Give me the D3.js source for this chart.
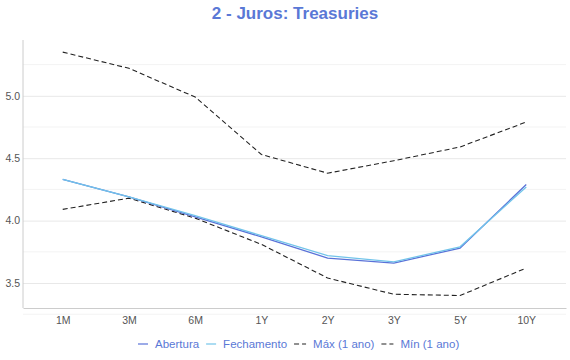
<!DOCTYPE html>
<html>
<head>
<meta charset="utf-8">
<script src="https://cdn.jsdelivr.net/npm/d3@7"></script>
<style>
  body { margin: 0; background: #fff; font-family: "Liberation Sans", Arial, sans-serif; }
</style>
</head>
<body>
<div id="chart"></div>
<script>
'use strict';

// maturities on the x axis
const maturities = ["1M", "3M", "6M", "1Y", "2Y", "3Y", "5Y", "10Y"];
// yields
const abertura   = [4.33, 4.19, 4.03, 3.87, 3.70, 3.66, 3.78, 4.29];
const fechamento = [4.33, 4.19, 4.04, 3.88, 3.72, 3.67, 3.79, 4.27];
const maxAno     = [5.35, 5.22, 4.99, 4.53, 4.38, 4.48, 4.59, 4.79];
const minAno     = [4.09, 4.18, 4.02, 3.81, 3.54, 3.41, 3.40, 3.62];
const yTicks = [3.5, 4.0, 4.5, 5.0];
const yMinor = [3.25, 3.75, 4.25, 4.75, 5.25];

(function() {

  const series = [
    { name: "Abertura",    values: abertura,   color: "#5a72d8", dash: null },
    { name: "Fechamento",  values: fechamento, color: "#72c4ea", dash: null },
    { name: "Máx (1 ano)", values: maxAno,     color: "#222",    dash: "5,3" },
    { name: "Mín (1 ano)", values: minAno,     color: "#222",    dash: "5,3" }
  ];

  const width = 570, height = 360;
  const plotLeft = 23, plotRight = 566, plotTop = 40, plotBottom = 308;

  const svg = d3.select('#chart')
    .append('svg')
    .attr('width', width)
    .attr('height', height);

  // title
  svg.append('text')
    .attr('x', 295)
    .attr('y', 19)
    .attr('text-anchor', 'middle')
    .style('font-size', '17px')
    .style('font-weight', 'bold')
    .style('fill', '#5a78d6')
    .text('2 - Juros: Treasuries');

  let x = d3.scalePoint()
    .domain(maturities)
    .range([plotLeft, plotRight])
    .padding(0.6);

  let y = d3.scaleLinear()
    .domain([3.3, 5.447])
    .range([plotBottom, plotTop]);

  // minor gridlines
  svg.append('g')
    .selectAll('line')
    .data(yMinor)
    .enter()
    .append('line')
    .attr('x1', plotLeft).attr('x2', plotRight)
    .attr('y1', (d) => y(d)).attr('y2', (d) => y(d))
    .attr('stroke', '#f3f3f3')
    .attr('stroke-width', 1);

  // y axis with major gridlines
  let yAxis = d3.axisLeft(y)
    .tickValues(yTicks)
    .tickFormat(d3.format('.1f'))
    .tickSize(-(plotRight - plotLeft))
    .tickPadding(3);
  let gy = svg.append('g')
    .attr('transform', 'translate(' + plotLeft + ',0)')
    .call(yAxis);
  gy.select('.domain').remove();
  gy.selectAll('.tick line').attr('stroke', '#e8e8e8');
  gy.selectAll('.tick text')
    .style('font-size', '10.5px')
    .style('fill', '#555')
    .style('font-family', '"Liberation Sans", Arial, sans-serif');

  // left axis line
  svg.append('line')
    .attr('x1', plotLeft).attr('x2', plotLeft)
    .attr('y1', plotTop).attr('y2', plotBottom)
    .attr('stroke', '#ccc');

  // x axis
  let xAxis = d3.axisBottom(x).tickSize(0).tickPadding(9);
  let gx = svg.append('g')
    .attr('transform', 'translate(0,' + plotBottom + ')')
    .call(xAxis);
  gx.select('.domain').attr('stroke', '#ccc');
  gx.selectAll('.tick text')
    .style('font-size', '10.5px')
    .style('fill', '#555')
    .style('font-family', '"Liberation Sans", Arial, sans-serif');

  // lines
  let line = d3.line()
    .x((d, i) => x(maturities[i]))
    .y((d) => y(d));

  // dashed first, then blue lines on top
  [series[2], series[3], series[0], series[1]].forEach((s) => {
    svg.append('path')
      .datum(s.values)
      .attr('fill', 'none')
      .attr('stroke', s.color)
      .attr('stroke-width', s.dash ? 1.1 : 1.3)
      .attr('stroke-dasharray', s.dash)
      .attr('d', line);
  });

  // legend
  let legend = svg.append('g');
  let lx = 138;
  series.forEach((s) => {
    let g = legend.append('g').attr('transform', 'translate(' + lx + ',344)');
    let sw = s.dash ? 12 : 10;
    g.append('line')
      .attr('x1', 0).attr('x2', sw)
      .attr('y1', 0).attr('y2', 0)
      .attr('stroke', s.color)
      .attr('stroke-width', 1.2)
      .attr('stroke-dasharray', s.dash ? '5,3' : null);
    let t = g.append('text')
      .attr('x', sw + 7)
      .attr('y', 4)
      .style('font-size', '11.5px')
      .style('fill', '#5a78d6')
      .text(s.name);
    lx += sw + 7 + t.node().getComputedTextLength() + 7;
  });

})();
</script>
</body>
</html>
